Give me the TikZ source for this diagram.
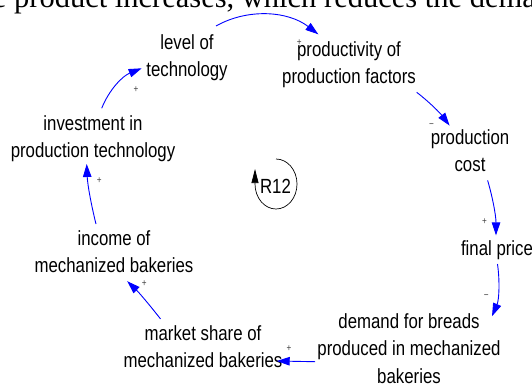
\documentclass[tikz,border=0pt]{standalone}
\usepackage{fontspec}
\newfontfamily\lblfont[FakeStretch=0.82]{Liberation Sans}
\newfontfamily\bodyserif{Liberation Serif}
\usetikzlibrary{arrows.meta}
\definecolor{linkblue}{RGB}{0,0,255}
\begin{document}
\begin{tikzpicture}[x=1pt,y=-1pt,
  var/.style={font=\lblfont\fontsize{20.5}{27.5}\selectfont, align=center, inner sep=0pt, anchor=base},
  link/.style={linkblue, line width=0.9pt, -{Triangle[length=13pt,width=8.5pt]}},
  pol/.style={font=\lblfont\fontsize{10}{10}\selectfont, inner sep=0pt, text=black!75}]
\useasboundingbox (0,0) rectangle (532,386);
\clip (0,0) rectangle (532,386);

% running text of the page above the figure
\node[font=\bodyserif\fontsize{30.5}{30.5}\selectfont, anchor=base west, inner sep=0pt] (runtext) at (-31,7)
  {the product increases, which reduces the demand};

% variables of the loop (each placed at the baseline of its last line)
\node[var] (tech)   at (187,76.7)  {level of\\technology};
\node[var] (prod)   at (349,83.5)  {productivity of\\production factors};
\node[var] (cost)   at (470,171.9) {production\\cost};
\node[var] (price)  at (497,255)   {final price};
\node[var] (demand) at (409,383)   {demand for breads\\produced in mechanized\\bakeries};
\node[var] (market) at (203,367.5) {market share of\\mechanized bakeries};
\node[var] (income) at (114,272.5) {income of\\mechanized bakeries};
\node[var] (invest) at (93,157.5)  {investment in\\production technology};

% causal links
\draw[link] ([shift={(8.7,-49.2)}]invest.base) .. controls (109.3,89.3) and (122.7,75.9) .. ([shift={(-45.3,-8.4)}]tech.base);
\draw[link] ([shift={(29,-50.7)}]tech.base) .. controls (248,8) and (288,11) .. ([shift={(-30.7,-49.2)}]prod.base);
\draw[link] ([shift={(67.7,8.8)}]prod.base) .. controls (429.2,101.9) and (440.1,113) .. ([shift={(-20.4,-46.3)}]cost.base);
\draw[link] ([shift={(17.6,8.5)}]cost.base) .. controls (492,195) and (496,215) .. ([shift={(-1,-19.6)}]price.base);
\draw[link] ([shift={(0.5,9)}]price.base) .. controls (500,282) and (499,300) .. ([shift={(83,-66.8)}]demand.base);
\draw[link] ([shift={(-94,-21.3)}]demand.base) -- ([shift={(73.7,-6.5)}]market.base);
\draw[link] ([shift={(-42.5,-48.6)}]market.base) .. controls (150,305.5) and (139,292.5) .. ([shift={(13.2,8.7)}]income.base);
\draw[link] ([shift={(-18,-48.5)}]income.base) .. controls (91,204) and (87.5,184) .. ([shift={(-6.3,6.5)}]invest.base);

% link polarities
\node[pol] (pa) at (136,89.3)   {+};
\node[pol] (pb) at (299.3,42.7) {+};
\node[pol] (pc) at (431.6,125.6) {−};
\node[pol] (pd) at (484.6,221.8) {+};
\node[pol] (pe) at (486.3,296.8) {−};
\node[pol] (pf) at (289,348.3)  {+};
\node[pol] (pg) at (144.2,284)  {+};
\node[pol] (ph) at (99.3,180.7) {+};

% reinforcing loop marker
\node[var] (loop) at (275.5,193) {R12};
\draw[black, line width=0.7pt, -{Triangle[length=14pt,width=7pt]}]
  (276,159) arc[start angle=-90, end angle=180, x radius=21, y radius=25] -- ++(0,-15);
\end{tikzpicture}
\end{document}
